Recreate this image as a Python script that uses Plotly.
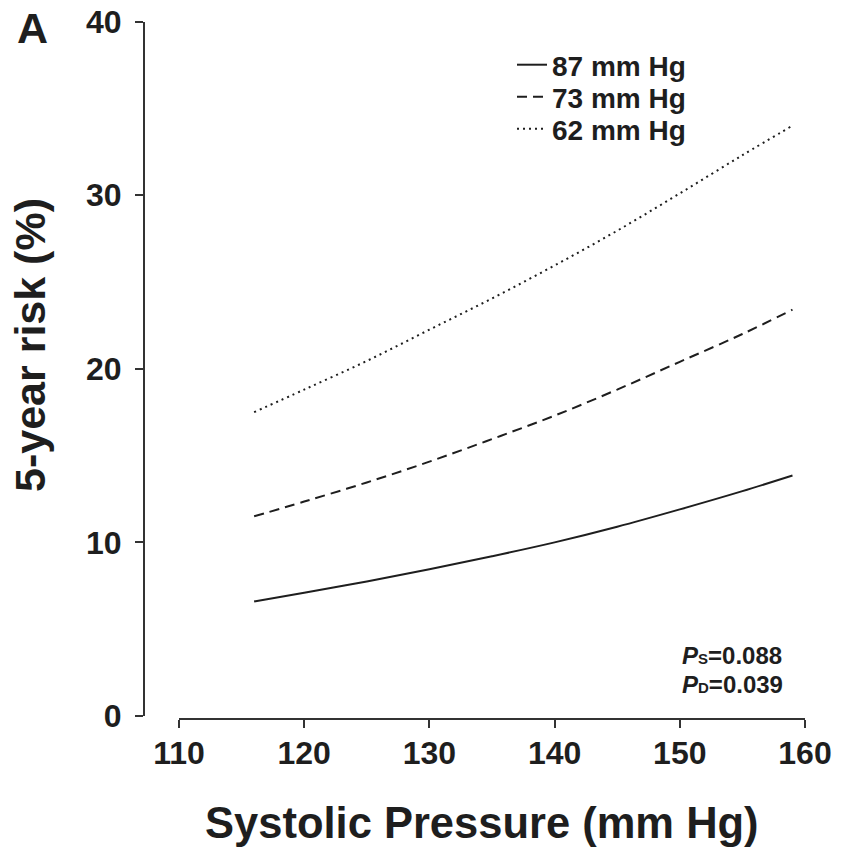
import plotly.graph_objects as go

# ---- data ----
sbp = [116, 120, 125, 130, 135, 140, 145, 150, 155, 159]
risk_dbp87 = [6.6, 7.1, 7.75, 8.45, 9.2, 10.0, 10.9, 11.9, 12.95, 13.85]
risk_dbp73 = [11.5, 12.35, 13.45, 14.65, 15.95, 17.3, 18.8, 20.4, 22.0, 23.4]
risk_dbp62 = [17.5, 18.8, 20.45, 22.25, 24.05, 25.95, 27.95, 30.1, 32.3, 34.0]
series_names = ["87 mm Hg", "73 mm Hg", "62 mm Hg"]
x_ticks = [110, 120, 130, 140, 150, 160]
y_ticks = [0, 10, 20, 30, 40]
p_systolic = "0.088"
p_diastolic = "0.039"

W, H = 841, 849
INK = "#1e1e1e"
AXC = "#333333"
FONT = "Liberation Sans"

def px_x(v):
    return v / W

def px_y(v):
    return 1 - v / H

fig = go.Figure()
dashes = ["solid", "10px,6px", "2px,4px"]
series = [risk_dbp87, risk_dbp73, risk_dbp62]
legends = ["legend", "legend2", "legend3"]
for name, vals, d, lg in zip(series_names, series, dashes, legends):
    fig.add_trace(go.Scatter(
        x=sbp, y=vals, mode="lines", name=name,
        line=dict(color=INK, width=2, dash=d, shape="spline"),
        legend=lg, showlegend=True,
    ))

legend_rows = [40, 72, 104]
leg_common = dict(
    x=px_x(512), xanchor="left", yanchor="top",
    bgcolor="rgba(0,0,0,0)", borderwidth=0,
    font=dict(family=FONT, size=28, color=INK, weight="bold"),
    itemwidth=30, tracegroupgap=0,
)
legend_layout = {}
for lg, row in zip(legends, legend_rows):
    legend_layout[lg] = dict(leg_common, y=px_y(row))

axis_common = dict(
    showgrid=False, zeroline=False, showline=True, automargin=False,
    linecolor=AXC, linewidth=2, ticks="outside", tickwidth=2,
    tickcolor=AXC, ticklen=8,
    tickfont=dict(family=FONT, size=32, color=INK, weight="bold"),
)

fig.update_layout(
    template="none",
    width=W, height=H,
    margin=dict(l=0, r=0, t=0, b=0, autoexpand=False),
    paper_bgcolor="white", plot_bgcolor="white",
    xaxis=dict(axis_common, range=[110, 160], tickvals=x_ticks,
               domain=[px_x(179), px_x(805)], anchor="free",
               position=px_y(719), ticklabelstandoff=-2),
    yaxis=dict(axis_common, range=[0, 40], tickvals=y_ticks,
               domain=[px_y(716), px_y(21.5)], anchor="free",
               position=px_x(144), ticklabelstandoff=7),
    **legend_layout,
)

ann_font = dict(family=FONT, color=INK, weight="bold")
fig.add_annotation(text="A", x=px_x(32.5), y=px_y(28), xref="paper", yref="paper",
                   showarrow=False, xanchor="center", yanchor="middle",
                   font=dict(ann_font, size=43))
fig.add_annotation(text="Systolic Pressure (mm Hg)", x=px_x(482), y=px_y(823),
                   xref="paper", yref="paper", showarrow=False,
                   xanchor="center", yanchor="middle", font=dict(ann_font, size=43.5))
fig.add_annotation(text="5-year risk (%)", x=px_x(30), y=px_y(345),
                   xref="paper", yref="paper", showarrow=False, textangle=-90,
                   xanchor="center", yanchor="middle", font=dict(ann_font, size=43))
fig.add_annotation(text="<i>P</i><span style='font-size:15px'>S</span>=" + p_systolic,
                   x=px_x(680), y=px_y(655), xref="paper", yref="paper", showarrow=False,
                   xanchor="left", yanchor="middle", font=dict(ann_font, size=24))
fig.add_annotation(text="<i>P</i><span style='font-size:15px'>D</span>=" + p_diastolic,
                   x=px_x(680), y=px_y(684), xref="paper", yref="paper", showarrow=False,
                   xanchor="left", yanchor="middle", font=dict(ann_font, size=24))

fig.write_html("out.html")
